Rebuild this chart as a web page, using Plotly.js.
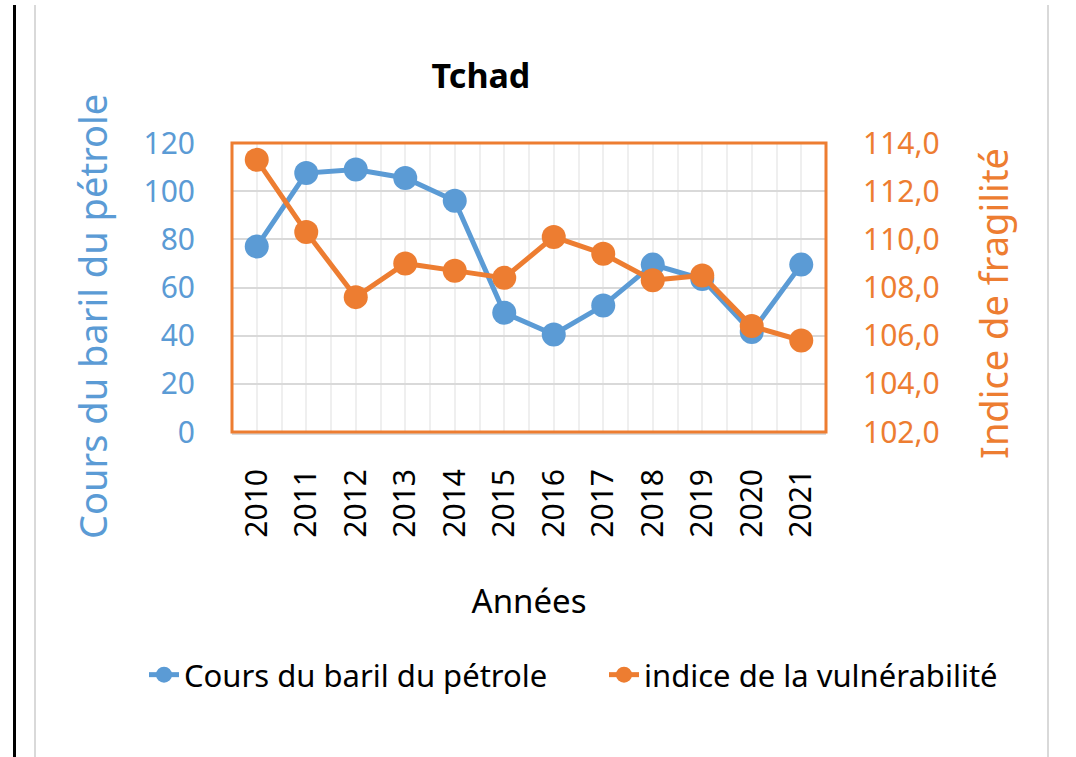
<!DOCTYPE html>
<html>
<head>
<meta charset="utf-8">
<script src="https://cdn.plot.ly/plotly-3.0.1.min.js"></script>
<style>
  html, body { margin: 0; padding: 0; background: #ffffff; }
  #wrap { position: relative; width: 1076px; height: 757px; overflow: hidden; }
  #chart { position: absolute; left: 0; top: 0; width: 1076px; height: 757px; }
  .vline { position: absolute; top: 5px; bottom: 0; }
</style>
</head>
<body>
<div id="wrap">
  <div class="vline" style="left:13px;width:3px;background:#000;"></div>
  <div class="vline" style="left:34px;width:2px;background:#d9d9d9;"></div>
  <div class="vline" style="left:1047px;width:2px;background:#d9d9d9;"></div>
  <div id="chart"></div>
</div>
<script>
// ---- data ----
const years = [2010, 2011, 2012, 2013, 2014, 2015, 2016, 2017, 2018, 2019, 2020, 2021];
const oilPrice = [77, 107.5, 109, 105.5, 96, 49.5, 40.5, 52.5, 69.5, 63.5, 41.5, 69.5];
const fragility = [113.3, 110.3, 107.6, 109.0, 108.7, 108.4, 110.1, 109.4, 108.3, 108.5, 106.4, 105.8];
const yearLabels = years.map(String);
const seriesNames = ["Cours du baril du pétrole", "indice de la vulnérabilité"];
const chartTitle = "Tchad";
const xTitle = "Années";
const yLeftTitle = "Cours du baril du pétrole";
const yRightTitle = "Indice de fragilité";

const BLUE = "#5b9bd5";
const ORANGE = "#ed7d31";
const FONT = "Noto Sans, Open Sans, sans-serif";

const traces = [
  {
    x: years, y: oilPrice, name: seriesNames[0], type: "scatter", mode: "lines+markers",
    line: { color: BLUE, width: 5 },
    marker: { color: BLUE, size: 24 },
    yaxis: "y", legend: "legend"
  },
  {
    x: years, y: fragility, name: seriesNames[1], type: "scatter", mode: "lines+markers",
    line: { color: ORANGE, width: 5 },
    marker: { color: ORANGE, size: 24 },
    yaxis: "y2", legend: "legend2"
  }
];

const legendCommon = {
  orientation: "h", xanchor: "left", yref: "paper", yanchor: "middle",
  y: -(675 - 432) / 289,
  font: { family: FONT, size: 31, color: "#000" },
  itemwidth: 30, bgcolor: "rgba(0,0,0,0)"
};

const layout = {
  width: 1076, height: 757,
  paper_bgcolor: "rgba(0,0,0,0)",
  plot_bgcolor: "#ffffff",
  separators: ", ",
  font: { family: FONT, color: "#000" },
  margin: { l: 232, r: 250, t: 143, b: 325, pad: 0 },
  showlegend: true,
  title: {
    text: "<b>" + chartTitle + "</b>",
    font: { family: FONT, size: 34, color: "#000" },
    x: 0.447, xanchor: "center", y: 0.9, yanchor: "middle"
  },
  xaxis: {
    type: "linear",
    range: [years[0] - 0.5, years[years.length - 1] + 0.5],
    tickmode: "array", tickvals: years, ticktext: yearLabels,
    tickangle: -90,
    tickfont: { family: FONT, size: 30, color: "#000" },
    ticks: "outside", ticklen: 22, tickcolor: "rgba(0,0,0,0)",
    showgrid: true, gridcolor: "#efefef", gridwidth: 2,
    minor: { tick0: years[0] - 0.5, dtick: 0.5, showgrid: true, gridcolor: "#efefef", gridwidth: 2, ticks: "" },
    showline: true, linecolor: "#d9d9d9", linewidth: 3,
    zeroline: false, fixedrange: true,
    title: { text: xTitle, font: { family: FONT, size: 33, color: "#000" }, standoff: 54 }
  },
  yaxis: {
    range: [0, 120], dtick: 20, tick0: 0,
    tickfont: { family: FONT, size: 30, color: BLUE },
    ticks: "outside", ticklen: 30, tickcolor: "rgba(0,0,0,0)",
    showgrid: true, gridcolor: "#d9d9d9", gridwidth: 2,
    showline: false, zeroline: false, fixedrange: true
  },
  yaxis2: {
    overlaying: "y", side: "right",
    range: [102, 114], dtick: 2, tick0: 102, tickformat: ".1f",
    tickfont: { family: FONT, size: 30, color: ORANGE },
    ticks: "outside", ticklen: 30, tickcolor: "rgba(0,0,0,0)",
    showgrid: false, showline: false, zeroline: false, fixedrange: true
  },
  annotations: [
    { text: yLeftTitle, xref: "paper", yref: "paper",
      x: (92 - 232) / 594, y: (432 - 317) / 289, xanchor: "center", yanchor: "middle",
      textangle: -90, showarrow: false,
      font: { family: FONT, size: 38, color: BLUE } },
    { text: yRightTitle, xref: "paper", yref: "paper",
      x: (993 - 232) / 594, y: (432 - 304) / 289, xanchor: "center", yanchor: "middle",
      textangle: -90, showarrow: false,
      font: { family: FONT, size: 38, color: ORANGE } }
  ],
  shapes: [
    { type: "rect", xref: "paper", yref: "paper", x0: 0, x1: 1, y0: 0, y1: 1,
      line: { color: ORANGE, width: 3 }, fillcolor: "rgba(0,0,0,0)", layer: "above" }
  ],
  legend: Object.assign({}, legendCommon, { xref: "paper", x: (144 - 232) / 594 }),
  legend2: Object.assign({}, legendCommon, { xref: "paper", x: (604 - 232) / 594 })
};

Plotly.newPlot("chart", traces, layout, { displayModeBar: false, staticPlot: true });
</script>
</body>
</html>
